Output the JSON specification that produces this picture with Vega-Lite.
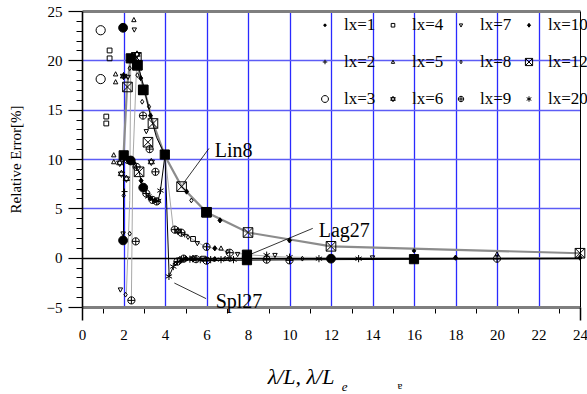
{
"$schema":"https://vega.github.io/schema/vega-lite/v6.json",
"width":498,"height":296,
"autosize":{"type":"none"},
"padding":{"left":82,"top":11,"right":7,"bottom":87},
"background":"white",
"config":{"view":{"stroke":null},
"axis":{"labelFont":"Liberation Serif","titleFont":"Liberation Serif","labelColor":"black","titleColor":"black","tickColor":"black","labelFlush":false,"labelOverlap":false},
"legend":{"labelFont":"Liberation Serif","labelColor":"black"},
"text":{"font":"Liberation Serif","color":"black"}},
"datasets":{
"gl":[
{"s":"G1","x":2.14,"y":-3.6},{"s":"G1","x":2.3,"y":5.8},{"s":"G1","x":2.35,"y":20.2},
{"s":"G2","x":2.38,"y":-4.33},{"s":"G2","x":2.45,"y":9.5},{"s":"G2","x":2.65,"y":20.5},
{"s":"M","x":4,"y":10.4},{"s":"M","x":4.4,"y":2.9},{"s":"M","x":4.5,"y":2.8},{"s":"M","x":4.8,"y":2.5},{"s":"M","x":5.0,"y":2.3},{"s":"M","x":5.3,"y":1.9},{"s":"M","x":5.6,"y":1.5},{"s":"M","x":6,"y":1.1},{"s":"M","x":6.5,"y":0.9},{"s":"M","x":7.1,"y":0.55},{"s":"M","x":8,"y":0.3},{"s":"M","x":9,"y":0.15},{"s":"M","x":10,"y":0.05},{"s":"M","x":12,"y":0},{"s":"M","x":16,"y":0},{"s":"M","x":24,"y":0}
],
"lin8":[
{"x":2,"y":10.3},{"x":2.17,"y":17.3},{"x":2.33,"y":20.0},{"x":2.67,"y":19.4},{"x":3,"y":17.0},{"x":3.43,"y":13.6},{"x":4,"y":10.3},{"x":4.8,"y":7.2},{"x":6,"y":4.6},{"x":8,"y":2.55},{"x":12,"y":1.15},{"x":24,"y":0.45}
],
"bl":[
{"s":"D","x":2,"y":10.4},{"s":"D","x":2.2,"y":9.9},{"s":"D","x":2.35,"y":9.8},{"s":"D","x":2.5,"y":9.6},{"s":"D","x":2.63,"y":9.2},{"s":"D","x":2.75,"y":8.7},{"s":"D","x":2.85,"y":7.8},{"s":"D","x":2.95,"y":7.1},{"s":"D","x":3.1,"y":6.5},{"s":"D","x":3.2,"y":6.2},{"s":"D","x":3.3,"y":6.0},{"s":"D","x":3.4,"y":5.85},{"s":"D","x":3.5,"y":5.8},{"s":"D","x":3.6,"y":5.7},{"s":"D","x":3.67,"y":5.75},{"s":"D","x":3.78,"y":6.8},{"s":"D","x":4,"y":10.4},
{"s":"V","x":2,"y":10.4},{"s":"V","x":2,"y":1.75},
{"s":"U","x":2.62,"y":20.2},{"s":"U","x":2.94,"y":17.6},{"s":"U","x":3.3,"y":14.4},{"s":"U","x":3.59,"y":12.2},{"s":"U","x":4,"y":10.4},
{"s":"S1","x":4,"y":10.4},{"s":"S1","x":4.2,"y":-1.9},{"s":"S1","x":4.4,"y":-0.9},{"s":"S1","x":4.6,"y":-0.5},{"s":"S1","x":4.8,"y":-0.3},{"s":"S1","x":5,"y":-0.22},{"s":"S1","x":5.5,"y":-0.18},{"s":"S1","x":6,"y":-0.15},{"s":"S1","x":7,"y":-0.12},{"s":"S1","x":8,"y":-0.1},{"s":"S1","x":10,"y":-0.1},{"s":"S1","x":12,"y":-0.1},{"s":"S1","x":16,"y":-0.1},{"s":"S1","x":24,"y":-0.05},
{"s":"S2","x":4.4,"y":-0.6},{"s":"S2","x":4.8,"y":-0.2},{"s":"S2","x":5.5,"y":-0.25},{"s":"S2","x":6,"y":-0.3},{"s":"S2","x":8,"y":-0.25},{"s":"S2","x":12,"y":-0.2},{"s":"S2","x":24,"y":-0.1}
],
"pts":[
{"lx":"3","x":0.9,"y":23.05},{"lx":"3","x":0.9,"y":18.1},
{"lx":"4","x":1.33,"y":21.0},{"lx":"4","x":1.33,"y":20.2},{"lx":"4","x":1.17,"y":14.3},{"lx":"4","x":1.17,"y":13.6},
{"lx":"big","x":1.98,"y":23.3},{"lx":"20","x":1.98,"y":23.3},
{"lx":"5","x":2.5,"y":24.1},{"lx":"7","x":2.52,"y":23.1},
{"lx":"bigsq","x":2.35,"y":20.2},{"lx":"12","x":2.62,"y":20.3},{"lx":"6","x":2.65,"y":20.6},{"lx":"bigsq","x":2.67,"y":19.5},{"lx":"12","x":2.67,"y":19.5},
{"lx":"5","x":1.62,"y":18.6},{"lx":"5","x":1.62,"y":17.8},
{"lx":"6","x":2.0,"y":18.4},{"lx":"20","x":2.0,"y":18.4},{"lx":"7","x":2.22,"y":18.3},
{"lx":"12","x":2.19,"y":17.3},
{"lx":"8","x":2.3,"y":19.2},{"lx":"8","x":2.67,"y":18.5},{"lx":"10","x":2.83,"y":18.2},
{"lx":"bigsq","x":2.95,"y":17.0},{"lx":"12","x":2.95,"y":17.0},
{"lx":"8","x":2.9,"y":15.8},{"lx":"8","x":3.23,"y":15.3},
{"lx":"9","x":2.94,"y":14.4},{"lx":"10","x":3.3,"y":14.4},
{"lx":"12","x":3.42,"y":13.6},{"lx":"7","x":3.1,"y":12.8},{"lx":"12","x":3.18,"y":11.7},{"lx":"9","x":3.26,"y":11.0},{"lx":"6","x":3.34,"y":9.7},{"lx":"9","x":3.54,"y":8.7},{"lx":"20","x":3.78,"y":6.8},
{"lx":"bigsq","x":2.01,"y":10.37},{"lx":"bigsq","x":3.99,"y":10.45},
{"lx":"5","x":1.53,"y":10.4},{"lx":"5","x":1.53,"y":9.7},
{"lx":"6","x":1.82,"y":9.6},{"lx":"6","x":1.9,"y":8.5},{"lx":"6","x":2.14,"y":8.0},{"lx":"8","x":2.01,"y":6.3},{"lx":"2","x":2.05,"y":6.7},
{"lx":"9","x":2.2,"y":9.9},{"lx":"big","x":2.35,"y":9.85},{"lx":"10","x":2.5,"y":9.6},{"lx":"9","x":2.63,"y":9.2},{"lx":"12","x":2.75,"y":8.7},{"lx":"10","x":2.85,"y":7.8},{"lx":"big","x":2.95,"y":7.1},{"lx":"9","x":3.1,"y":6.5},{"lx":"20","x":3.2,"y":6.2},{"lx":"10","x":3.3,"y":6.0},{"lx":"9","x":3.4,"y":5.85},{"lx":"10","x":3.5,"y":5.8},{"lx":"9","x":3.6,"y":5.7},{"lx":"20","x":3.67,"y":5.75},
{"lx":"7","x":1.98,"y":2.43},{"lx":"8","x":2.3,"y":2.43},{"lx":"big","x":1.98,"y":1.75},{"lx":"9","x":2.59,"y":1.65},{"lx":"7","x":1.85,"y":-3.25},{"lx":"8","x":2.1,"y":-3.75},{"lx":"9","x":2.38,"y":-4.33},{"lx":"20","x":4.19,"y":-1.9},
{"lx":"9","x":4.47,"y":2.84},{"lx":"6","x":4.63,"y":2.7},{"lx":"9","x":4.79,"y":2.53},{"lx":"2","x":4.95,"y":2.36},{"lx":"8","x":5.11,"y":2.09},{"lx":"4","x":5.35,"y":1.9},{"lx":"7","x":5.56,"y":1.45},{"lx":"9","x":6.0,"y":1.1},{"lx":"10","x":6.4,"y":0.95},{"lx":"5","x":6.7,"y":0.95},{"lx":"8","x":7.0,"y":0.62},{"lx":"9","x":7.12,"y":0.5},{"lx":"7","x":7.5,"y":0.35},
{"lx":"12","x":4.8,"y":7.2},{"lx":"bigsq","x":6,"y":4.6},{"lx":"12","x":6,"y":4.6},{"lx":"12","x":8,"y":2.55},{"lx":"12","x":12,"y":1.15},{"lx":"12","x":24,"y":0.45},
{"lx":"10","x":5.04,"y":6.7},{"lx":"10","x":6.65,"y":3.78},{"lx":"10","x":10,"y":1.75},{"lx":"8","x":5.27,"y":5.8},
{"lx":"20","x":4.4,"y":-0.9},{"lx":"8","x":4.5,"y":-0.6},{"lx":"9","x":4.6,"y":-0.4},{"lx":"6","x":4.7,"y":-0.25},{"lx":"20","x":4.8,"y":-0.2},{"lx":"9","x":4.9,"y":-0.1},{"lx":"10","x":5.0,"y":-0.1},{"lx":"20","x":5.2,"y":-0.15},{"lx":"6","x":5.35,"y":-0.1},{"lx":"9","x":5.5,"y":-0.15},{"lx":"20","x":5.7,"y":-0.2},{"lx":"4","x":5.85,"y":-0.1},{"lx":"9","x":6.0,"y":-0.3},{"lx":"20","x":6.2,"y":-0.2},{"lx":"10","x":6.4,"y":-0.15},{"lx":"20","x":6.7,"y":-0.2},{"lx":"8","x":6.9,"y":-0.1},{"lx":"7","x":7.1,"y":-0.15},{"lx":"20","x":7.3,"y":-0.2},
{"lx":"bigsq","x":7.95,"y":0.3},{"lx":"bigsq","x":7.95,"y":-0.25},
{"lx":"20","x":8.9,"y":0.25},{"lx":"9","x":8.9,"y":-0.2},{"lx":"7","x":9.3,"y":0.25},
{"lx":"20","x":10,"y":0.05},{"lx":"9","x":10,"y":-0.27},{"lx":"8","x":10.62,"y":-0.1},{"lx":"20","x":11.42,"y":-0.1},{"lx":"big","x":12,"y":-0.1},{"lx":"20","x":13.33,"y":-0.1},{"lx":"7","x":14,"y":0.0},{"lx":"bigsq","x":16,"y":-0.15},{"lx":"1","x":16,"y":0.7},{"lx":"10","x":18,"y":0.0},{"lx":"5","x":20,"y":0.35},{"lx":"9","x":20,"y":-0.1},{"lx":"10","x":24,"y":0.0}
],
"leaders":[
{"id":"Lin8","x":6.12,"y":11.07},{"id":"Lin8","x":4.85,"y":7.43},
{"id":"Lag27","x":11.12,"y":2.97},{"id":"Lag27","x":8.0,"y":0.23},
{"id":"Spl27","x":4.45,"y":-2.57},{"id":"Spl27","x":5.98,"y":-4.15}
],
"notes":[
{"label":"Lin8","x":6.4,"y":10.17},{"label":"Lag27","x":11.41,"y":2.06},{"label":"Spl27","x":6.44,"y":-5.12}
],
"xt":[{"label":"λ/L, λ/L","x":8.95,"y":-12.84}],
"xsub":[{"label":"e","x":12.52,"y":-13.55}],
"xg":[{"label":"ɐ","x":15.2,"y":-13.35}]
},
"layer":[
{"data":{"name":"gl"},"mark":{"type":"line","color":"#a8a8a8","strokeWidth":1},
"encoding":{
"x":{"field":"x","type":"quantitative","scale":{"domain":[0,24],"nice":false,"zero":false},"axis":{"orient":"bottom","values":[2,4,6,8,10,12,14,16,18,20,22],"grid":true,"gridColor":"#2a2aff","gridWidth":1.3,"ticks":false,"labels":false,"domain":false,"title":null}},
"y":{"field":"y","type":"quantitative","scale":{"domain":[-5,25],"nice":false,"zero":false},"axis":{"orient":"left","values":[5,10,15,20],"grid":true,"gridColor":"#5c5cf5","gridWidth":1.3,"ticks":false,"labels":false,"domain":false,"title":null}},
"detail":{"field":"s","type":"nominal"}}},
{"data":{"name":"lin8"},"mark":{"type":"line","color":"#8c8c8c","strokeWidth":2.2},
"encoding":{
"x":{"field":"x","type":"quantitative","scale":{"domain":[0,24],"nice":false,"zero":false},"axis":{"orient":"bottom","values":[0,2,4,6,8,10,12,14,16,18,20,22,24],"ticks":false,"tickSize":0,"labels":true,"labelFont":"Liberation Serif","labelFontSize":15,"labelPadding":20,"domain":false,"grid":false,"title":null}},
"y":{"field":"y","type":"quantitative","scale":{"domain":[-5,25],"nice":false,"zero":false},"axis":{"orient":"left","values":[-5,0,5,10,15,20,25],"tickSize":14,"tickWidth":1.2,"labelFont":"Liberation Serif","labelFontSize":15,"labelPadding":6,"domain":true,"domainColor":"black","domainWidth":1.6,"grid":false,"title":"Relative Error[%]","titleFont":"Liberation Serif","titleFontSize":15,"titleFontWeight":"normal","titleX":-67,"titleY":148,"titleAngle":270,"titleAlign":"center","titleBaseline":"middle"}}}},
{"data":{"name":"bl"},"mark":{"type":"line","color":"black","strokeWidth":1},
"encoding":{
"x":{"field":"x","type":"quantitative","scale":{"domain":[0,24],"nice":false,"zero":false},"axis":{"orient":"bottom","values":[1,3,5,7,9,11,13,15,17,19,21,23],"tickSize":6,"tickWidth":1,"labels":false,"domain":true,"domainColor":"#7f7f7f","domainWidth":3,"grid":false,"title":null}},
"y":{"field":"y","type":"quantitative","scale":{"domain":[-5,25],"nice":false,"zero":false},"axis":{"orient":"left","values":[-4,-3,-2,-1,1,2,3,4,6,7,8,9,11,12,13,14,16,17,18,19,21,22,23,24],"tickSize":6,"tickWidth":1,"labels":false,"domain":false,"grid":false,"title":null}},
"detail":{"field":"s","type":"nominal"}}},
{"data":{"name":"pts"},"mark":{"type":"point","size":16,"stroke":"black","strokeWidth":1,"opacity":1},
"encoding":{
"x":{"field":"x","type":"quantitative","scale":{"domain":[0,24],"nice":false,"zero":false},"axis":{"orient":"top","ticks":false,"labels":false,"domain":true,"domainColor":"#7f7f7f","domainWidth":3,"grid":false,"title":null}},
"y":{"field":"y","type":"quantitative","scale":{"domain":[-5,25],"nice":false,"zero":false},"axis":{"orient":"right","ticks":false,"labels":false,"domain":true,"domainColor":"black","domainWidth":1,"grid":false,"title":null}},
"shape":{"field":"lx","type":"nominal",
"scale":{"domain":["1","2","3","4","5","6","7","8","9","10","12","20","big","bigsq"],
"range":["M-0.8,0A0.8,0.8 0 1,0 0.8,0A0.8,0.8 0 1,0 -0.8,0Z M-0.3,0H0.3","M-1.5,0H1.5M0,-1.5V1.5","M-2.3,0A2.3,2.3 0 1,0 2.3,0A2.3,2.3 0 1,0 -2.3,0Z","M-1.2,-1.2H1.2V1.2H-1.2Z","M0,-1.2L1.1,0.9H-1.1Z","M0,-1.8L1.56,0.9H-1.56Z M0,1.8L1.56,-0.9H-1.56Z","M0,1.2L1.1,-0.9H-1.1Z","M0,-1.2L0.8,0L0,1.2L-0.8,0Z","M-1.8,0A1.8,1.8 0 1,0 1.8,0A1.8,1.8 0 1,0 -1.8,0Z M-1.8,0H1.8 M0,-1.8V1.8","M0,-1.3L1,0L0,1.3L-1,0Z M0,-0.7L0.5,0L0,0.7L-0.5,0Z M-0.3,0H0.3","M-2.4,-2.4H2.4V2.4H-2.4Z M-2.4,-2.4L2.4,2.4 M2.4,-2.4L-2.4,2.4","M0,-1.8V1.8 M-1.56,-0.9L1.56,0.9 M-1.56,0.9L1.56,-0.9","M-2.2,0A2.2,2.2 0 1,0 2.2,0A2.2,2.2 0 1,0 -2.2,0Z","M-2.3,-2.3H2.3V2.3H-2.3Z"]},
"legend":{"values":["1","2","3","4","5","6","7","8","9","10","12","20"],"orient":"none","legendX":234.5,"legendY":5.5,"direction":"vertical","columns":4,"gridAlign":"all","columnPadding":-9,"rowPadding":19,"labelOffset":10.5,"padding":0,"title":null,"labelFont":"Liberation Serif","labelFontSize":17,"labelExpr":"'lx=' + datum.label","symbolSize":9,"symbolStrokeWidth":1,"symbolStrokeColor":"black","symbolFillColor":"transparent"}},
"fill":{"field":"lx","type":"nominal",
"scale":{"domain":["1","2","3","4","5","6","7","8","9","10","12","20","big","bigsq"],
"range":["black","transparent","transparent","transparent","transparent","transparent","transparent","transparent","transparent","black","transparent","transparent","black","black"]},
"legend":null}}},
{"data":{"name":"leaders"},"mark":{"type":"line","color":"black","strokeWidth":0.8},
"encoding":{
"x":{"field":"x","type":"quantitative","scale":{"domain":[0,24],"nice":false,"zero":false},"axis":{"orient":"bottom","values":[0,24],"tickSize":13,"tickWidth":1.5,"labels":false,"domain":false,"grid":false,"title":null}},
"y":{"field":"y","type":"quantitative","scale":{"domain":[-5,25],"nice":false,"zero":false},"axis":{"orient":"left","values":[0],"ticks":false,"labels":false,"domain":false,"grid":true,"gridColor":"black","gridWidth":1.5,"title":null}},
"detail":{"field":"id","type":"nominal"}}},
{"data":{"name":"notes"},"mark":{"type":"text","font":"Liberation Serif","fontSize":20,"align":"left","baseline":"alphabetic"},
"encoding":{
"x":{"field":"x","type":"quantitative","scale":{"domain":[0,24],"nice":false,"zero":false},"axis":null},
"y":{"field":"y","type":"quantitative","scale":{"domain":[-5,25],"nice":false,"zero":false},"axis":null},
"text":{"field":"label","type":"nominal"}}},
{"data":{"name":"xt"},"mark":{"type":"text","font":"Liberation Serif","fontSize":22,"fontStyle":"italic","align":"left","baseline":"alphabetic"},
"encoding":{
"x":{"field":"x","type":"quantitative","scale":{"domain":[0,24],"nice":false,"zero":false},"axis":null},
"y":{"field":"y","type":"quantitative","scale":{"domain":[-5,25],"nice":false,"zero":false},"axis":null},
"text":{"field":"label","type":"nominal"}}},
{"data":{"name":"xsub"},"mark":{"type":"text","font":"Liberation Serif","fontSize":13,"fontStyle":"italic","align":"left","baseline":"alphabetic"},
"encoding":{
"x":{"field":"x","type":"quantitative","scale":{"domain":[0,24],"nice":false,"zero":false},"axis":null},
"y":{"field":"y","type":"quantitative","scale":{"domain":[-5,25],"nice":false,"zero":false},"axis":null},
"text":{"field":"label","type":"nominal"}}},
{"data":{"name":"xg"},"mark":{"type":"text","font":"Liberation Serif","fontSize":11,"align":"left","baseline":"alphabetic"},
"encoding":{
"x":{"field":"x","type":"quantitative","scale":{"domain":[0,24],"nice":false,"zero":false},"axis":null},
"y":{"field":"y","type":"quantitative","scale":{"domain":[-5,25],"nice":false,"zero":false},"axis":null},
"text":{"field":"label","type":"nominal"}}}
],
"resolve":{"axis":{"x":"independent","y":"independent"}}
}
